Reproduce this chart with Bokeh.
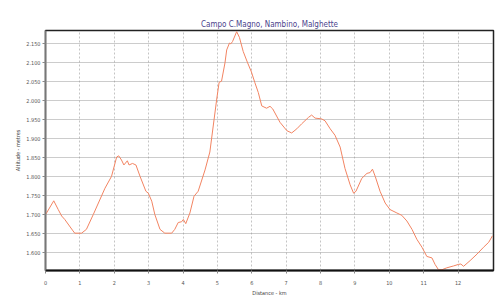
from bokeh.plotting import figure
from bokeh.models import Range1d, FixedTicker
from bokeh.embed import file_html
from bokeh.resources import INLINE

title_text = "Campo C.Magno, Nambino, Malghette"
x_label = "Distance - km"
y_label = "Altitude - metres"

distance_km = [0.0, 0.03, 0.24, 0.37, 0.47, 0.56, 0.8, 0.85, 1.05, 1.19, 1.39, 1.73, 1.92, 2.07,
               2.13, 2.21, 2.28, 2.38, 2.43, 2.53, 2.63, 2.75, 2.92, 2.99, 3.09, 3.18, 3.33, 3.47,
               3.67, 3.76, 3.86, 3.96, 4.01, 4.08, 4.2, 4.32, 4.44, 4.64, 4.78, 4.98, 5.05, 5.12,
               5.22, 5.27, 5.35, 5.39, 5.44, 5.56, 5.64, 5.75, 5.87, 5.99, 6.09, 6.19, 6.29, 6.43,
               6.53, 6.61, 6.82, 7.02, 7.16, 7.31, 7.45, 7.65, 7.74, 7.84, 8.03, 8.13, 8.28, 8.42,
               8.57, 8.71, 8.86, 8.96, 9.03, 9.20, 9.35, 9.44, 9.51, 9.59, 9.73, 9.88, 10.02, 10.22,
               10.36, 10.51, 10.66, 10.80, 10.95, 11.09, 11.24, 11.33, 11.43, 11.53, 11.67, 11.87,
               12.01, 12.08, 12.16, 12.35, 12.55, 12.74, 12.89, 13.0]
altitude_m = [1700, 1704, 1736, 1713, 1696, 1687, 1657, 1651, 1651, 1661, 1700, 1769, 1800, 1851,
              1854, 1843, 1830, 1841, 1830, 1834, 1830, 1800, 1761, 1756, 1735, 1700, 1661, 1651,
              1651, 1661, 1679, 1681, 1687, 1676, 1704, 1748, 1761, 1817, 1864, 2003, 2047, 2050,
              2098, 2132, 2150, 2148, 2154, 2180, 2165, 2128, 2100, 2074, 2046, 2020, 1985, 1979,
              1984, 1977, 1942, 1920, 1914, 1925, 1938, 1955, 1961, 1953, 1951, 1946, 1925, 1908,
              1877, 1821, 1778, 1756, 1761, 1795, 1808, 1810, 1819, 1800, 1761, 1730, 1713, 1704,
              1698, 1683, 1661, 1635, 1614, 1590, 1586, 1569, 1555, 1555, 1560, 1565, 1569, 1570,
              1564, 1579, 1596, 1614, 1627, 1644]

x_ticks = list(range(0, 13))
y_ticks = [1600, 1650, 1700, 1750, 1800, 1850, 1900, 1950, 2000, 2050, 2100, 2150]
y_tick_labels = ["1.600", "1.650", "1.700", "1.750", "1.800", "1.850", "1.900", "1.950",
                 "2.000", "2.050", "2.100", "2.150"]

FONT = "DejaVu Sans Condensed, Liberation Sans, sans-serif"

p = figure(width=503, height=298, output_backend="svg", toolbar_location=None,
           x_range=Range1d(0, 13.03), y_range=Range1d(1553, 2183),
           min_border_left=45, min_border_right=10, min_border_top=30, min_border_bottom=25)

p.title.text = title_text
p.title.align = "center"
p.title.text_color = "#4a3f8c"
p.title.text_font = FONT
p.title.text_font_size = "8px"
p.title.text_font_style = "normal"
p.title.standoff = 3

p.line(distance_km, altitude_m, line_color="#f28462", line_width=1)

p.xaxis.ticker = FixedTicker(ticks=x_ticks)
p.yaxis.ticker = FixedTicker(ticks=y_ticks)
p.yaxis.major_label_overrides = {t: l for t, l in zip(y_ticks, y_tick_labels)}
p.xaxis.axis_label = x_label
p.yaxis.axis_label = y_label

for ax in (p.xaxis, p.yaxis):
    ax.major_label_text_font = FONT
    ax.major_label_text_font_size = "5.5px"
    ax.major_label_text_color = "#555555"
    ax.axis_label_text_font = FONT
    ax.axis_label_text_font_size = "5.5px"
    ax.axis_label_text_font_style = "normal"
    ax.axis_label_text_color = "#444444"
    ax.minor_tick_line_color = None
    ax.major_tick_in = 0
    ax.major_tick_out = 3
    ax.major_tick_line_color = "#888888"
    ax.axis_label_standoff = 2
    ax.major_label_standoff = 2

p.xaxis.major_label_standoff = 6
p.xaxis.axis_line_color = "#111111"
p.xaxis.axis_line_width = 2
p.yaxis.axis_line_color = "#777777"
p.yaxis.axis_line_width = 1.5

p.outline_line_color = "#222222"
p.outline_line_width = 1.5

p.xgrid.grid_line_color = "#c4c4c4"
p.xgrid.grid_line_dash = "2 2"
p.ygrid.grid_line_color = "#999999"
p.ygrid.grid_line_dash = "1 1"

p.background_fill_color = "white"
p.border_fill_color = "white"

open("out.html", "w").write(file_html(p, INLINE))
